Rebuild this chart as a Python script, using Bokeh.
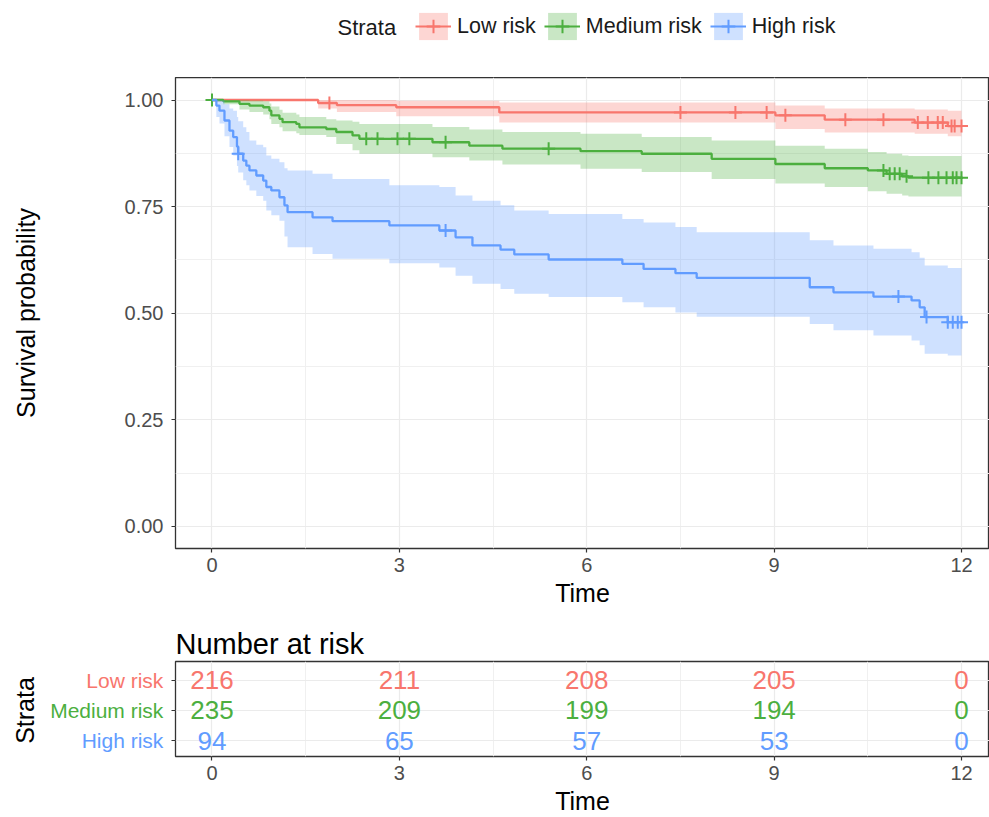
import math
from bokeh.plotting import figure
from bokeh.models import FixedTicker, NumeralTickFormatter, Legend, LegendItem, Label, ColumnDataSource, Range1d
from bokeh.layouts import column, row
from bokeh.embed import file_html
from bokeh.resources import INLINE
from bokeh.core.properties import value

FONT = "Liberation Sans"

# ---------------- data ----------------
groups = ["Low risk", "Medium risk", "High risk"]
colors = ["#F8766D", "#4CAF3F", "#619CFF"]
END_TIME = 12.0

low_time = [0, 1.70, 2.00, 2.95, 4.60, 9.02, 9.81, 11.25, 11.78]
low_surv = [1.0, 0.993, 0.988, 0.983, 0.971, 0.964, 0.954, 0.947, 0.939]
low_lower = [1.0, 0.980, 0.972, 0.962, 0.947, 0.932, 0.924, 0.921, 0.915]
low_upper = [1.0, 1.0, 1.0, 0.998, 0.994, 0.987, 0.980, 0.978, 0.975]
low_censor = [1.88, 7.50, 8.38, 8.88, 9.18, 10.14, 10.75, 11.30, 11.46, 11.62, 11.70, 11.84, 11.89, 12.0]

med_time = [0, 0.18, 0.44, 0.60, 0.82, 0.92, 0.95, 1.08, 1.13, 1.35,
            1.40, 1.83, 1.99, 2.25, 2.36, 3.53, 4.12, 4.65, 5.90, 6.88,
            8.00, 9.02, 9.81, 10.50, 10.80, 11.05, 11.15]
med_surv = [1.0, 0.997, 0.991, 0.987, 0.983, 0.975, 0.964, 0.956, 0.948, 0.944,
            0.936, 0.932, 0.925, 0.917, 0.909, 0.901, 0.893, 0.886, 0.880, 0.874,
            0.862, 0.850, 0.840, 0.835, 0.827, 0.821, 0.818]
med_lower = [1.0, 0.990, 0.978, 0.972, 0.966, 0.955, 0.944, 0.936, 0.927, 0.922,
             0.918, 0.913, 0.897, 0.882, 0.874, 0.866, 0.858, 0.849, 0.839, 0.831,
             0.815, 0.804, 0.796, 0.786, 0.780, 0.776, 0.774]
med_upper = [1.0, 1.0, 1.0, 0.999, 0.997, 0.992, 0.985, 0.977, 0.970, 0.966,
             0.960, 0.955, 0.952, 0.949, 0.944, 0.937, 0.931, 0.925, 0.921, 0.913,
             0.905, 0.893, 0.886, 0.878, 0.874, 0.870, 0.869]
med_censor = [0.0, 2.47, 2.65, 2.97, 3.16, 3.74, 5.39, 10.75, 10.85, 10.93, 11.01,
              11.12, 11.47, 11.63, 11.76, 11.86, 11.92, 12.0]

high_time = [0, 0.07, 0.12, 0.20, 0.28, 0.34, 0.40, 0.42, 0.50, 0.55,
             0.60, 0.71, 0.82, 0.87, 0.95, 1.08, 1.16, 1.21, 1.61, 1.93,
             2.84, 3.64, 3.90, 4.17, 4.62, 4.84, 5.39, 6.57, 6.91, 7.42,
             7.76, 9.57, 9.95, 10.59, 11.20, 11.33, 11.41, 11.78]
high_surv = [1.0, 0.987, 0.975, 0.952, 0.928, 0.913, 0.891, 0.874, 0.858, 0.846,
             0.835, 0.823, 0.811, 0.796, 0.788, 0.772, 0.753, 0.737, 0.725, 0.716,
             0.706, 0.694, 0.678, 0.659, 0.649, 0.638, 0.626, 0.616, 0.604, 0.594,
             0.583, 0.561, 0.549, 0.539, 0.530, 0.514, 0.491, 0.479]
high_lower = [1.0, 0.960, 0.945, 0.915, 0.890, 0.870, 0.845, 0.830, 0.812, 0.800,
              0.788, 0.775, 0.764, 0.741, 0.730, 0.717, 0.680, 0.655, 0.639, 0.628,
              0.617, 0.607, 0.588, 0.569, 0.557, 0.546, 0.538, 0.526, 0.514, 0.502,
              0.492, 0.475, 0.460, 0.448, 0.436, 0.425, 0.405, 0.401]
high_upper = [1.0, 1.0, 0.999, 0.990, 0.980, 0.975, 0.960, 0.950, 0.936, 0.925,
              0.905, 0.895, 0.889, 0.870, 0.862, 0.854, 0.840, 0.835, 0.827, 0.815,
              0.800, 0.796, 0.776, 0.764, 0.753, 0.741, 0.733, 0.721, 0.713, 0.702,
              0.690, 0.671, 0.659, 0.651, 0.643, 0.630, 0.612, 0.606]
high_censor = [0.42, 3.74, 10.99, 11.44, 11.78, 11.86, 11.94, 12.0]

risk_times = [0, 3, 6, 9, 12]
risk_low = [216, 211, 208, 205, 0]
risk_medium = [235, 209, 199, 194, 0]
risk_high = [94, 65, 57, 53, 0]

x_ticks = [0, 3, 6, 9, 12]
x_minor = [1.5, 4.5, 7.5, 10.5]
y_ticks = [0.0, 0.25, 0.5, 0.75, 1.0]
y_minor = [0.125, 0.375, 0.625, 0.875]

series = [
    (low_time, low_surv, low_lower, low_upper, low_censor),
    (med_time, med_surv, med_lower, med_upper, med_censor),
    (high_time, high_surv, high_lower, high_upper, high_censor),
]
risk_rows = [risk_low, risk_medium, risk_high]
row_pos = [3, 2, 1]


def expand_steps(times, vals, t_end):
    xs, ys = [], []
    for i, t0 in enumerate(times):
        t1 = times[i + 1] if i + 1 < len(times) else t_end
        xs += [t0, t1]
        ys += [vals[i], vals[i]]
    return xs, ys


def value_at(times, vals, t):
    v = vals[0]
    for ti, vi in zip(times, vals):
        if ti <= t:
            v = vi
    return v


X_RANGE = (-0.584, 12.448)
TICK_COLOR = "#4D4D4D"
DARK = "#333333"
GRID = "#EBEBEB"
TEXT_DARK = "#1A1A1A"
LEFT = 175  # width of the left border shared by the stacked plots


def style_axes(fig):
    for ax in (fig.xaxis[0], fig.yaxis[0]):
        ax.axis_line_color = None
        ax.major_tick_line_color = DARK
        ax.major_tick_line_width = 1.2
        ax.major_tick_out = 4
        ax.major_tick_in = 0
        ax.minor_tick_line_color = None
        ax.major_label_text_font = FONT
        ax.major_label_text_font_size = "20px"
        ax.major_label_text_color = TICK_COLOR
        ax.axis_label_text_font = FONT
        ax.axis_label_text_font_size = "25px"
        ax.axis_label_text_font_style = "normal"
        ax.axis_label_text_color = "#000000"
    fig.outline_line_color = DARK
    fig.outline_line_width = 1.3
    fig.background_fill_color = "white"
    fig.border_fill_color = "white"


def blank_fig(width, height, **kw):
    f = figure(width=width, height=height, output_backend="svg", toolbar_location=None,
               min_border_right=0, **kw)
    f.axis.visible = False
    f.grid.visible = False
    f.outline_line_color = None
    f.background_fill_color = "white"
    f.border_fill_color = "white"
    return f


# ---------------- legend strip ----------------
lg = blank_fig(989, 77, x_range=(0, 1), y_range=(0, 1), min_border_left=LEFT,
               min_border_top=0, min_border_bottom=0)
NAN = float("nan")
items = []
for name, col in zip(groups, colors):
    b = lg.varea(x=[NAN], y1=[NAN], y2=[NAN], fill_color=col, fill_alpha=0.3)
    l = lg.line(x=[NAN], y=[NAN], line_color=col, line_width=2.2)
    s = lg.scatter(x=[NAN], y=[NAN], marker="cross", size=13, line_color=col, line_width=2)
    items.append(LegendItem(label=name, renderers=[b, l, s]))
legend = Legend(items=items, orientation="horizontal", location=(415 - LEFT, 34),
                glyph_width=36, glyph_height=34, label_standoff=6, spacing=8,
                padding=0, margin=0, border_line_color=None, background_fill_alpha=0,
                label_text_font=FONT, label_text_font_size="21.5px", label_text_color=TEXT_DARK,
                label_height=34)
lg.add_layout(legend)
lg.add_layout(Label(x=337 - LEFT, y=50, x_units="screen", y_units="screen", text="Strata",
                    text_font=FONT, text_font_size="22px", text_color=TEXT_DARK,
                    text_baseline="middle", text_align="left"))

# ---------------- survival plot ----------------
p = figure(width=989, height=543, x_range=X_RANGE, y_range=(-0.0516, 1.0528),
           output_backend="svg", toolbar_location=None,
           min_border_left=LEFT, min_border_right=0, min_border_top=0, min_border_bottom=72)
style_axes(p)
xt = FixedTicker(ticks=x_ticks, minor_ticks=x_minor)
yt = FixedTicker(ticks=y_ticks, minor_ticks=y_minor)
p.xaxis[0].ticker = xt
p.yaxis[0].ticker = yt
p.xgrid[0].ticker = xt
p.ygrid[0].ticker = yt
p.yaxis[0].formatter = NumeralTickFormatter(format="0.00")
for g in (p.xgrid[0], p.ygrid[0]):
    g.grid_line_color = GRID
    g.grid_line_width = 1.2
    g.minor_grid_line_color = "#F0F0F0"
    g.minor_grid_line_width = 1
p.xaxis[0].axis_label = "Time"
p.yaxis[0].axis_label = "Survival probability"
p.xaxis[0].major_label_standoff = 5
p.xaxis[0].axis_label_standoff = 4
p.yaxis[0].major_label_standoff = 8
p.yaxis[0].axis_label_standoff = 82

for name, col, (tt, ss, lo, up, cc) in zip(groups, colors, series):
    xs, ys = expand_steps(tt, ss, END_TIME)
    _, ylo = expand_steps(tt, lo, END_TIME)
    _, yup = expand_steps(tt, up, END_TIME)
    p.varea(x=xs, y1=ylo, y2=yup, fill_color=col, fill_alpha=0.3)
    p.line(x=xs, y=ys, line_color=col, line_width=2.3)
    cy = [value_at(tt, ss, c) for c in cc]
    p.scatter(x=cc, y=cy, marker="cross", size=13, line_color=col, line_width=2)

# ---------------- risk table ----------------
table_y = Range1d(0.475, 3.623)
t = figure(width=819, height=197, x_range=X_RANGE, y_range=table_y,
           output_backend="svg", toolbar_location=None, title="Number at risk",
           min_border_left=5, min_border_right=0, min_border_top=41, min_border_bottom=60)
style_axes(t)
t.title.text_font = FONT
t.title.text_font_size = "29px"
t.title.text_font_style = "normal"
t.title.text_color = "#000000"
t.title.align = "left"
t.title.offset = 0
t.title.standoff = 3
txt = FixedTicker(ticks=x_ticks, minor_ticks=x_minor)
tyt = FixedTicker(ticks=row_pos, minor_ticks=[])
t.xaxis[0].ticker = txt
t.xgrid[0].ticker = txt
t.yaxis[0].ticker = tyt
t.ygrid[0].ticker = tyt
t.yaxis[0].major_label_overrides = {1: "", 2: "", 3: ""}
t.yaxis[0].major_label_standoff = 0
for g in (t.xgrid[0], t.ygrid[0]):
    g.grid_line_color = GRID
    g.grid_line_width = 1.2
t.xgrid[0].minor_grid_line_color = "#F0F0F0"
t.xgrid[0].minor_grid_line_width = 1
t.xaxis[0].axis_label = "Time"
t.xaxis[0].major_label_standoff = 5
t.xaxis[0].axis_label_standoff = 4

rx, ry, rt, rc = [], [], [], []
for name, col, rows, yp in zip(groups, colors, risk_rows, row_pos):
    for tm, n in zip(risk_times, rows):
        rx.append(tm)
        ry.append(yp)
        rt.append(str(n))
        rc.append(col)
src = ColumnDataSource(dict(x=rx, y=ry, text=rt, color=rc))
t.text(x="x", y="y", text="text", text_color="color", source=src,
       text_align="center", text_baseline="middle",
       text_font=value(FONT), text_font_size=value("26px"))

# row labels of the table (left strip sharing the table's y scale)
lab = blank_fig(170, 197, x_range=(0, 1), y_range=table_y, min_border_left=0,
                min_border_top=41, min_border_bottom=60)
lab.text(x=[0.958] * 3, y=row_pos, text=groups, text_color=colors,
         text_align="right", text_baseline="middle",
         text_font=value(FONT), text_font_size=value("21px"))
lab.text(x=[0.147], y=[2], text=["Strata"], angle=math.pi / 2, text_color="#000000",
         text_align="center", text_baseline="middle",
         text_font=value(FONT), text_font_size=value("25px"))

layout = column(lg, p, row(lab, t))
open("out.html", "w").write(file_html(layout, INLINE))
